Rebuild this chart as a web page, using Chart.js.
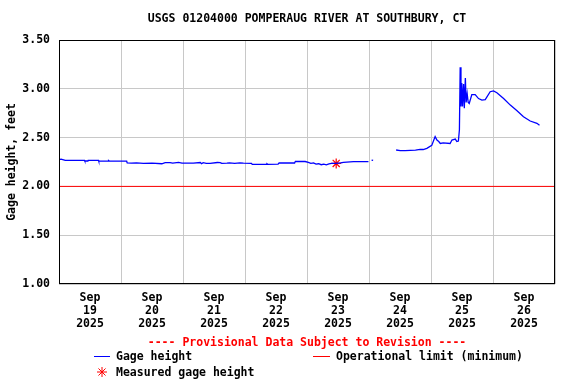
<!DOCTYPE html>
<html>
<head>
<meta charset="utf-8">
<title>USGS 01204000 Pomperaug River at Southbury, CT</title>
<script src="https://cdn.jsdelivr.net/npm/chart.js@4.4.1/dist/chart.umd.min.js"></script>
<style>
    html, body { margin: 0; padding: 0; background: #ffffff; }
    canvas { display: block; }
</style>
</head>
<body>
<canvas id="gage-chart" width="576" height="384"></canvas>
<script>
// hours since Sep 19 2025 00:00, and gage height in feet (null = gap in record)
const gageHours = [
    0, 0.8, 1.8, 2.4, 9.9, 10.0, 11.2, 11.3, 15.3, 15.4, 19.0, 19.2, 19.6, 26.2, 26.4, 28, 30, 32.7, 36, 39.8,
    41.1, 43.0, 44, 46.3, 47.6, 52, 54.7, 55.2, 55.8, 57, 58.5, 61.3, 62.4, 63, 65, 66, 68, 70, 71.4, 74.5,
    74.8, 80.3, 80.5, 80.8, 84.8, 85.2, 91.2, 91.5, 95.3, 96.5, 97.5, 98.5, 99.5, 100.5, 101.5, 102.5, 103.5, 104.5, 105.5, 107,
    109, 110.1, 114, 119.8, 120.4, 121.0, 121.6, 126,
    130.5, 132.1, 134, 136.0, 138, 139.8, 141, 142.4, 144.3, 145.6, 146.3, 147.0, 147.6, 148.7, 151.4, 152.1, 153.4, 154.0, 154.6, 155.0,
    155.3, 155.6, 155.9, 156.2, 156.6, 156.9, 157.3, 157.6, 158.0, 158.4, 158.8, 159.8, 161.1, 162.4, 163.7, 165.0, 166.9, 168.2, 169.5, 172.1,
    174.7, 177.3, 179.8, 182.4, 185.0, 186.0
];
const gageValues = [
    2.275, 2.28, 2.272, 2.267, 2.267, 2.26, 2.26, 2.267, 2.267, 2.258, 2.258, 2.265, 2.258, 2.258, 2.24, 2.238, 2.242, 2.236, 2.238, 2.232,
    2.244, 2.244, 2.238, 2.246, 2.238, 2.238, 2.245, 2.232, 2.243, 2.236, 2.236, 2.245, 2.244, 2.236, 2.238, 2.242, 2.236, 2.24, 2.238, 2.236,
    2.226, 2.226, 2.232, 2.226, 2.228, 2.24, 2.24, 2.257, 2.255, 2.245, 2.236, 2.24, 2.228, 2.232, 2.222, 2.228, 2.22, 2.23, 2.236, 2.236,
    2.24, 2.247, 2.253, 2.253, null, 2.27, 2.266, null,
    2.373, 2.366, 2.366, 2.37, 2.372, 2.38, 2.378, 2.39, 2.42, 2.51, 2.475, 2.46, 2.44, 2.445, 2.44, 2.475, 2.485, 2.46, 2.465, 2.58,
    3.22, 2.82, 3.06, 2.82, 3.05, 2.80, 3.11, 2.86, 2.95, 2.86, 2.85, 2.94, 2.94, 2.90, 2.885, 2.89, 2.97, 2.978, 2.96, 2.90,
    2.833, 2.776, 2.714, 2.67, 2.646, 2.626
];

const limitHours = [0, 192];
const limitValues = [2.00, 2.00];

const measuredHours = [107.3];
const measuredValues = [2.235];

const dayLabels = ['19', '20', '21', '22', '23', '24', '25', '26'];
const yTicks = [1.00, 1.50, 2.00, 2.50, 3.00, 3.50];

const FONT = '"DejaVu Sans Mono", "Liberation Mono", monospace';

function toPoints(xs, ys) {
    return xs.map((x, i) => ({ x: x, y: ys[i] }));
}

// black box around the plot, like the USGS graphs
const frameBox = {
    id: 'frameBox',
    afterDatasetsDraw(chart) {
        const a = chart.chartArea;
        const ctx = chart.ctx;
        ctx.save();
        ctx.strokeStyle = '#000000';
        ctx.lineWidth = 1;
        ctx.strokeRect(Math.round(a.left) + 0.5, Math.round(a.top) + 0.5, Math.round(a.right - a.left) - 1, Math.round(a.bottom - a.top) - 1);
        ctx.restore();
    }
};

// title, provisional note and legend are drawn by hand
const usgsText = {
    id: 'usgsText',
    afterDraw(chart) {
        const ctx = chart.ctx;
        const a = chart.chartArea;
        const mid = (a.left + a.right) / 2;
        const ds = chart.data.datasets;
        ctx.save();
        ctx.font = 'bold 11.5px ' + FONT;
        ctx.textBaseline = 'middle';
        ctx.textAlign = 'center';
        ctx.fillStyle = '#000000';
        ctx.fillText('USGS 01204000 POMPERAUG RIVER AT SOUTHBURY, CT', mid, 19);

        ctx.fillStyle = '#ff0000';
        ctx.fillText('---- Provisional Data Subject to Revision ----', mid, 343);

        ctx.textAlign = 'left';
        // Gage height
        ctx.strokeStyle = ds[0].borderColor;
        ctx.lineWidth = 1;
        ctx.beginPath();
        ctx.moveTo(94, 356.5);
        ctx.lineTo(110, 356.5);
        ctx.stroke();
        ctx.fillStyle = '#000000';
        ctx.fillText(ds[0].label, 116, 357);

        // Operational limit
        ctx.strokeStyle = ds[1].borderColor;
        ctx.beginPath();
        ctx.moveTo(313, 356.5);
        ctx.lineTo(330, 356.5);
        ctx.stroke();
        ctx.fillText(ds[1].label, 336, 357);

        // Measured
        ctx.strokeStyle = ds[2].borderColor;
        Chart.helpers.drawPoint(ctx, { pointStyle: 'star', radius: 5, borderWidth: 1 }, 102, 372);
        ctx.fillText(ds[2].label, 116, 373);
        ctx.restore();
    }
};

new Chart(document.getElementById('gage-chart').getContext('2d'), {
    type: 'line',
    data: {
        datasets: [
            {
                label: 'Gage height',
                data: toPoints(gageHours, gageValues),
                borderColor: '#0000ff',
                borderWidth: 1.3,
                pointRadius: 0,
                tension: 0,
                spanGaps: false
            },
            {
                label: 'Operational limit (minimum)',
                data: toPoints(limitHours, limitValues),
                borderColor: '#ff0000',
                borderWidth: 1,
                pointRadius: 0
            },
            {
                label: 'Measured gage height',
                type: 'scatter',
                data: toPoints(measuredHours, measuredValues),
                borderColor: '#ff0000',
                backgroundColor: '#ff0000',
                pointStyle: 'star',
                pointRadius: 5,
                borderWidth: 1.2
            }
        ]
    },
    options: {
        responsive: false,
        animation: false,
        devicePixelRatio: 1,
        layout: {
            padding: { left: 0, top: 40, right: 21, bottom: 0 }
        },
        plugins: {
            legend: { display: false },
            tooltip: { enabled: false },
            title: { display: false }
        },
        scales: {
            x: {
                type: 'linear',
                min: 0,
                max: 192,
                afterBuildTicks: function (scale) {
                    let ticks = [];
                    for (let h = 0; h <= 192; h += 12) ticks.push({ value: h });
                    scale.ticks = ticks;
                },
                afterFit: function (scale) {
                    scale.height = 100;
                },
                grid: {
                    color: function (c) {
                        return c.tick && c.tick.value % 24 === 0 ? '#c8c8c8' : 'rgba(0,0,0,0)';
                    },
                    drawTicks: false
                },
                border: { display: false },
                ticks: {
                    autoSkip: false,
                    maxRotation: 0,
                    padding: 8,
                    color: '#000000',
                    font: { family: FONT, size: 11.5, weight: 'bold', lineHeight: 1.13 },
                    callback: function (value) {
                        if (value % 24 !== 12) return '';
                        return ['Sep', dayLabels[Math.floor(value / 24)], '2025'];
                    }
                }
            },
            y: {
                min: 1,
                max: 3.5,
                afterBuildTicks: function (scale) {
                    scale.ticks = yTicks.map(v => ({ value: v }));
                },
                afterFit: function (scale) {
                    scale.width = 59;
                },
                grid: { color: '#c8c8c8', drawTicks: false },
                border: { display: false },
                title: {
                    display: true,
                    text: 'Gage height, feet',
                    color: '#000000',
                    font: { family: FONT, size: 11.5, weight: 'bold' },
                    padding: { top: 5, bottom: 0 }
                },
                ticks: {
                    padding: 9,
                    color: '#000000',
                    font: { family: FONT, size: 11.5, weight: 'bold' },
                    callback: function (value) {
                        return value.toFixed(2);
                    }
                }
            }
        }
    },
    plugins: [frameBox, usgsText]
});
</script>
</body>
</html>
